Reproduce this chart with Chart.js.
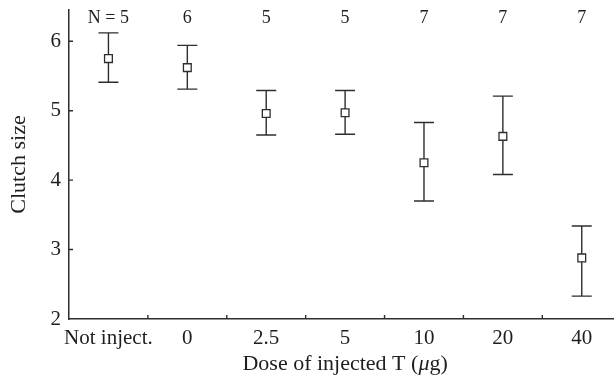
<!DOCTYPE html>
<html>
<head>
<meta charset="utf-8">
<script src="https://cdn.jsdelivr.net/npm/chart.js@4/dist/chart.umd.min.js"></script>
<style>
  html, body { margin: 0; padding: 0; background: #fff; overflow: hidden; }
  #wrap { width: 628px; height: 378px; }
</style>
</head>
<body>
<div id="wrap"><canvas id="clutchChart"></canvas></div>
<script>
const doses = ['Not inject.', '0', '2.5', '5', '10', '20', '40'];
const meanClutch = [5.75, 5.62, 4.96, 4.97, 4.25, 4.63, 2.88];
const upperBar = [6.12, 5.94, 5.29, 5.29, 4.83, 5.21, 3.34];
const lowerBar = [5.41, 5.31, 4.65, 4.66, 3.70, 4.08, 2.33];
const sampleN = ['N = 5', '6', '5', '5', '7', '7', '7'];
const yTicks = [2, 3, 4, 5, 6];

const inkColor = '#1e1e1e';
const lineColor = '#2e2e2e';
const serif = '"Liberation Serif", "DejaVu Serif", serif';

// error bars, inward ticks, N labels and the x title (with italic mu)
const extrasPlugin = {
    id: 'extras',
    beforeDatasetsDraw(chart) {
        const ctx = chart.ctx;
        const x = chart.scales.x, y = chart.scales.y;
        ctx.save();
        ctx.strokeStyle = lineColor;
        ctx.lineWidth = 1.4;
        meanClutch.forEach((v, i) => {
            const px = x.getPixelForValue(i);
            const top = y.getPixelForValue(upperBar[i]);
            const bot = y.getPixelForValue(lowerBar[i]);
            ctx.beginPath();
            ctx.moveTo(px, top); ctx.lineTo(px, bot);
            ctx.moveTo(px - 10, top); ctx.lineTo(px + 10, top);
            ctx.moveTo(px - 10, bot); ctx.lineTo(px + 10, bot);
            ctx.stroke();
        });
        ctx.restore();
    },
    afterDraw(chart) {
        const ctx = chart.ctx;
        const x = chart.scales.x, y = chart.scales.y;
        const area = chart.chartArea;
        ctx.save();
        ctx.strokeStyle = lineColor;
        ctx.lineWidth = 1.4;
        ctx.beginPath();
        yTicks.forEach(t => {
            if (t === y.min) return;
            const py = y.getPixelForValue(t);
            ctx.moveTo(area.left, py); ctx.lineTo(area.left + 4, py);
        });
        for (let i = 0; i < doses.length - 1; i++) {
            const px = (x.getPixelForValue(i) + x.getPixelForValue(i + 1)) / 2;
            ctx.moveTo(px, area.bottom); ctx.lineTo(px, area.bottom - 4);
        }
        ctx.stroke();

        ctx.fillStyle = inkColor;
        ctx.font = '18px ' + serif;
        ctx.textAlign = 'center';
        ctx.textBaseline = 'middle';
        sampleN.forEach((s, i) => {
            ctx.fillText(s, x.getPixelForValue(i), 18);
        });

        // x axis title
        const parts = [
            ['Dose of injected T (', '22px ' + serif],
            ['\u03bc', 'italic 22px ' + serif],
            ['g)', '22px ' + serif]
        ];
        let total = 0;
        parts.forEach(p => { ctx.font = p[1]; total += ctx.measureText(p[0]).width; });
        let cx = (area.left + area.right) / 2 - total / 2;
        ctx.textAlign = 'left';
        ctx.textBaseline = 'alphabetic';
        parts.forEach(p => {
            ctx.font = p[1];
            ctx.fillText(p[0], cx, 370);
            cx += ctx.measureText(p[0]).width;
        });
        ctx.restore();
    }
};

new Chart(document.getElementById('clutchChart'), {
    type: 'line',
    data: {
        labels: doses,
        datasets: [{
            data: meanClutch,
            showLine: false,
            pointStyle: 'rect',
            pointRadius: 5.5,
            pointHoverRadius: 5.5,
            pointBackgroundColor: '#ffffff',
            pointBorderColor: lineColor,
            pointBorderWidth: 1.3
        }]
    },
    options: {
        responsive: true,
        maintainAspectRatio: false,
        animation: false,
        layout: { padding: { top: 10, right: 2, left: 0, bottom: 0 } },
        plugins: { legend: { display: false }, tooltip: { enabled: false } },
        scales: {
            x: {
                offset: true,
                grid: { display: false, drawTicks: false },
                border: { display: true, color: lineColor, width: 1.5 },
                ticks: { color: inkColor, font: { family: serif, size: 21 }, padding: 7, maxRotation: 0, autoSkip: false },
                title: { display: false },
                afterFit: s => { s.height = 59; s.paddingLeft = 0; s.paddingRight = 0; }
            },
            y: {
                min: 2,
                max: 6.45,
                grid: { display: false, drawTicks: false },
                border: { display: true, color: lineColor, width: 1.5 },
                ticks: { color: inkColor, font: { family: serif, size: 21 }, padding: 8, stepSize: 1 },
                afterBuildTicks: s => { s.ticks = yTicks.map(v => ({ value: v })); },
                title: { display: true, text: 'Clutch size', color: inkColor, font: { family: serif, size: 22 }, padding: { top: 6, bottom: 0 } },
                afterFit: s => { s.width = 69; s.paddingTop = 0; s.paddingBottom = 0; }
            }
        }
    },
    plugins: [extrasPlugin]
});
</script>
</body>
</html>
